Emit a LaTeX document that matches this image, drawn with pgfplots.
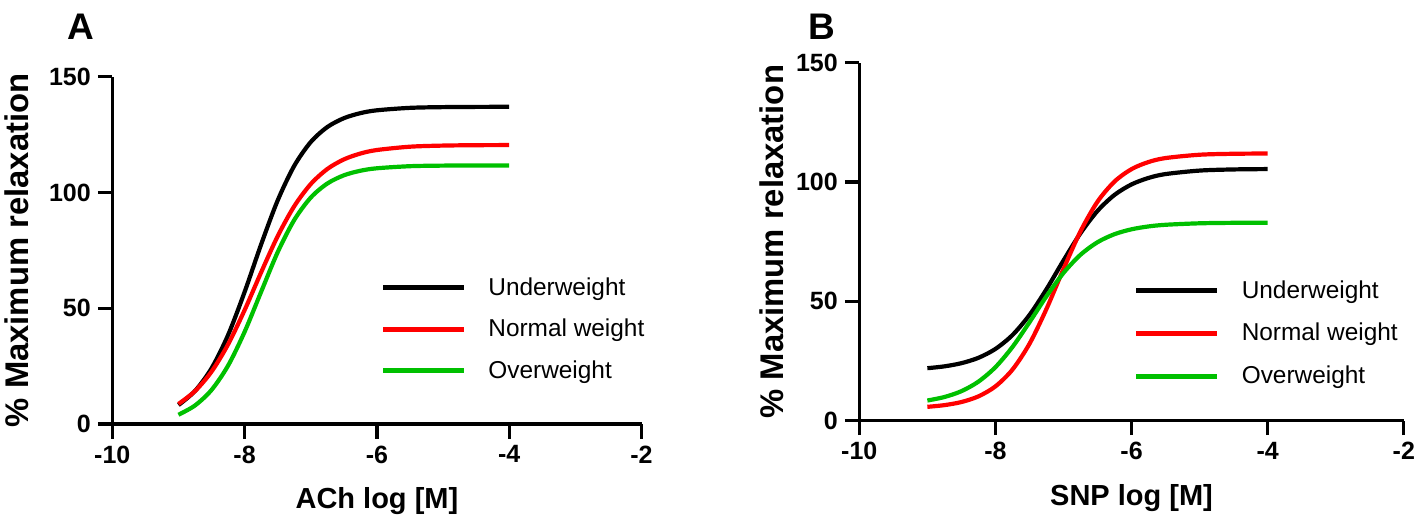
\documentclass[border=0pt]{standalone}
\usepackage{fontspec}
\setmainfont{Liberation Sans}
\usepackage{pgfplots}
\pgfplotsset{compat=1.18}
\definecolor{nwred}{HTML}{FF0000}
\definecolor{owgreen}{HTML}{00C000}
\pgfplotsset{
  relax/.style={
    scale only axis, xmin=-10, xmax=-2, ymin=0, ymax=150,
    axis lines=left, axis line style={-, line width=1.6pt},
    xtick={-10,-8,-6,-4,-2}, xticklabels={-10,-8,-6,-4,-2},
    ytick={0,50,100,150}, yticklabels={0,50,100,150},
    tick align=outside, major tick length=7.25pt,
    tick style={line width=1.6pt, black},
    tick label style={font=\fontsize{12.5}{14}\selectfont\bfseries},
    xlabel style={font=\fontsize{14.5}{17}\selectfont\bfseries},
    ylabel style={font=\fontsize{16.4}{19}\selectfont\bfseries},
    legend cell align=left,
    legend style={draw=none, fill=none, font=\fontsize{12.2}{14}\selectfont,
      column sep=11pt, inner sep=0pt, nodes={inner sep=0pt}},
    legend image code/.code={\draw[#1,line width=2.4pt] (0pt,0pt) -- (40.5pt,0pt);},
    every axis plot/.append style={line width=2.1pt, smooth},
    clip=false,
  }
}
\begin{document}
\begin{tikzpicture}
\path[use as bounding box] (0,0) rectangle (709pt,-264.5pt);
\node[font=\fontsize{18.5}{20}\selectfont\bfseries] at (40.4pt,-13.4pt) {A};
\node[font=\fontsize{18.5}{20}\selectfont\bfseries] at (411pt,-13.4pt) {B};

\begin{axis}[relax, at={(56.15pt,-212pt)}, anchor=south west,
  width=264.6pt, height=173.65pt,
  xlabel={ACh log [M]}, ylabel={\% Maximum relaxation},
  xlabel style={at={(axis description cs:0.5,-0.242)}, anchor=base},
  ylabel style={at={(axis description cs:-0.18,0.5)}, anchor=center},
  legend style={at={(axis cs:-5.95,63.5)}, anchor=north west, row sep=10.4pt}]
\addplot[black] coordinates {(-9,8.18) (-8.75,14.27) (-8.5,24.04) (-8.25,38.40) (-8,57.02) (-7.75,77.57) (-7.5,96.56) (-7.25,111.49) (-7,121.78) (-6.75,128.25) (-6.5,132.07) (-6.25,134.26) (-6,135.49) (-5.5,136.55) (-5,136.86) (-4.5,136.96) (-4,137.0)};
\addplot[nwred] coordinates {(-9,8.65) (-8.75,14.21) (-8.5,22.61) (-8.25,34.37) (-8,49.18) (-7.75,65.50) (-7.5,81.11) (-7.25,94.05) (-7,103.63) (-6.75,110.13) (-6.5,114.27) (-6.25,116.81) (-6,118.34) (-5.5,119.77) (-5,120.25) (-4.5,120.42) (-4,120.47)};
\addplot[owgreen] coordinates {(-9,4.0) (-8.75,8.0) (-8.5,14.7) (-8.25,25.2) (-8,39.8) (-7.75,57.1) (-7.5,74.2) (-7.25,88.10) (-7,97.79) (-6.75,103.86) (-6.5,107.40) (-6.25,109.38) (-6,110.45) (-5.5,111.35) (-5,111.60) (-4.5,111.67) (-4,111.69)};
\legend{Underweight, Normal weight, Overweight}
\end{axis}

\begin{axis}[relax, at={(429.65pt,-210.35pt)}, anchor=south west,
  width=272.25pt, height=179pt,
  xlabel={SNP log [M]}, ylabel={\% Maximum relaxation},
  xlabel style={at={(axis description cs:0.5,-0.2355)}, anchor=base},
  ylabel style={at={(axis description cs:-0.16,0.5)}, anchor=center},
  legend style={at={(axis cs:-5.97,58.95)}, anchor=north west, row sep=11pt}]
\addplot[black] coordinates {(-9,22.00) (-8.75,22.77) (-8.5,24.10) (-8.25,26.35) (-8,30.07) (-7.75,35.88) (-7.5,44.28) (-7.25,55.09) (-7,67.13) (-6.75,78.57) (-6.5,87.91) (-6.25,94.62) (-6,99.01) (-5.75,101.72) (-5.5,103.34) (-5,104.80) (-4.5,105.28) (-4,105.43)};
\addplot[nwred] coordinates {(-9,5.81) (-8.75,6.52) (-8.5,7.82) (-8.25,10.19) (-8,14.38) (-7.75,21.40) (-7.5,32.20) (-7.25,46.84) (-7,63.56) (-6.75,79.35) (-6.5,91.78) (-6.25,100.22) (-6,105.41) (-5.75,108.39) (-5.5,110.05) (-5,111.44) (-4.5,111.84) (-4,111.95)};
\addplot[owgreen] coordinates {(-9,8.46) (-8.75,9.92) (-8.5,12.37) (-8.25,16.36) (-8,22.43) (-7.75,30.88) (-7.5,41.24) (-7.25,52.14) (-7,61.92) (-6.75,69.53) (-6.5,74.79) (-6.25,78.16) (-6,80.20) (-5.75,81.40) (-5.5,82.09) (-5,82.71) (-4.5,82.91) (-4,82.97)};
\legend{Underweight, Normal weight, Overweight}
\end{axis}
\end{tikzpicture}
\end{document}
